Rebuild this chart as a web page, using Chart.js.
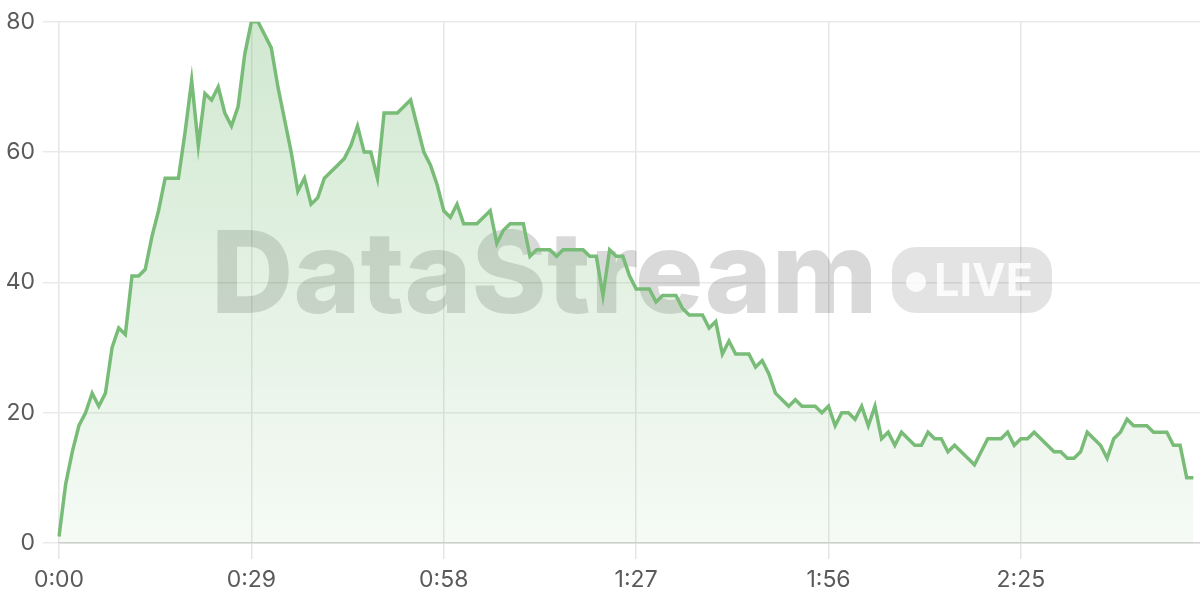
<!DOCTYPE html>
<html>
<head>
<meta charset="utf-8">
<script src="https://cdn.jsdelivr.net/npm/chart.js@4.4.0/dist/chart.umd.min.js"></script>
<style>
  html, body { margin: 0; padding: 0; background: #fff; }
  #wrap { width: 1200px; height: 600px; }
</style>
</head>
<body>
<div id="wrap"><canvas id="streamChart"></canvas></div>
<script>
// one sample per second
const viewers = [
  1, 9, 14, 18, 20, 23, 21, 23, 30, 33,
  32, 41, 41, 42, 47, 51, 56, 56, 56, 63,
  71, 61, 69, 68, 70, 66, 64, 67, 75, 80,
  80, 78, 76, 70, 65, 60, 54, 56, 52, 53,
  56, 57, 58, 59, 61, 64, 60, 60, 56, 66,
  66, 66, 67, 68, 64, 60, 58, 55, 51, 50,
  52, 49, 49, 49, 50, 51, 46, 48, 49, 49,
  49, 44, 45, 45, 45, 44, 45, 45, 45, 45,
  44, 44, 38, 45, 44, 44, 41, 39, 39, 39,
  37, 38, 38, 38, 36, 35, 35, 35, 33, 34,
  29, 31, 29, 29, 29, 27, 28, 26, 23, 22,
  21, 22, 21, 21, 21, 20, 21, 18, 20, 20,
  19, 21, 18, 21, 16, 17, 15, 17, 16, 15,
  15, 17, 16, 16, 14, 15, 14, 13, 12, 14,
  16, 16, 16, 17, 15, 16, 16, 17, 16, 15,
  14, 14, 13, 13, 14, 17, 16, 15, 13, 16,
  17, 19, 18, 18, 18, 17, 17, 17, 15, 15, 10, 10
];
const totalSeconds = 173;
const timeLabels = Array.from({ length: totalSeconds }, (_, s) =>
  Math.floor(s / 60) + ':' + String(s % 60).padStart(2, '0'));
const yTicks = [0, 20, 40, 60, 80];
const labelEvery = 29;

const lineColor = '#78bc78';

const watermark = {
  id: 'watermark',
  beforeDatasetsDraw(chart) {
    const ctx = chart.ctx;
    ctx.save();
    ctx.font = '800 114px Inter';
    ctx.textBaseline = 'alphabetic';
    ctx.fillStyle = 'rgba(0,0,0,0.15)';
    ctx.fillText('DataStream', 211, 313);
    // LIVE badge
    ctx.fillStyle = 'rgba(0,0,0,0.11)';
    ctx.beginPath();
    ctx.roundRect(892, 247, 160, 66, 24);
    ctx.fill();
    ctx.fillStyle = 'rgba(255,255,255,0.85)';
    ctx.beginPath();
    ctx.arc(916, 282, 10, 0, Math.PI * 2);
    ctx.fill();
    ctx.font = '700 45px Inter';
    ctx.fillText('LIVE', 934, 296);
    ctx.restore();
  }
};

const ctx = document.getElementById('streamChart');
new Chart(ctx, {
  type: 'line',
  data: {
    labels: timeLabels,
    datasets: [{
      label: 'Viewers',
      data: viewers,
      borderColor: lineColor,
      borderWidth: 3.5,
      pointRadius: 0,
      tension: 0,
      fill: true,
      backgroundColor: function(context) {
        const area = context.chart.chartArea;
        if (!area) return 'rgba(120,188,120,0.2)';
        const g = context.chart.ctx.createLinearGradient(0, area.top, 0, area.bottom);
        g.addColorStop(0, 'rgba(120,188,120,0.34)');
        g.addColorStop(1, 'rgba(120,188,120,0.07)');
        return g;
      }
    }]
  },
  options: {
    responsive: true,
    maintainAspectRatio: false,
    animation: false,
    layout: { padding: { top: 19, right: 0, left: 0, bottom: 0 } },
    plugins: {
      legend: { display: false },
      tooltip: { enabled: false }
    },
    scales: {
      x: {
        afterFit: function(scale) { scale.height = 57; },
        border: { display: true, color: '#d2d2d2', width: 1.5 },
        grid: {
          color: '#e6e6e6',
          tickLength: 16,
          lineWidth: 1.5
        },
        ticks: {
          autoSkip: false,
          maxRotation: 0,
          padding: 7,
          color: '#5a5a5a',
          font: { family: 'Inter', size: 23 },
          callback: function(value, index) {
            return index % labelEvery === 0 ? timeLabels[index] : null;
          }
        }
      },
      y: {
        min: yTicks[0],
        max: yTicks[yTicks.length - 1],
        afterFit: function(scale) { scale.width = 59; },
        border: { display: false },
        grid: {
          color: '#eaeaea',
          tickLength: 16,
          lineWidth: 1.5
        },
        ticks: {
          stepSize: yTicks[1] - yTicks[0],
          padding: 8,
          color: '#5a5a5a',
          font: { family: 'Inter', size: 23 }
        }
      }
    }
  },
  plugins: [watermark]
});
</script>
</body>
</html>
